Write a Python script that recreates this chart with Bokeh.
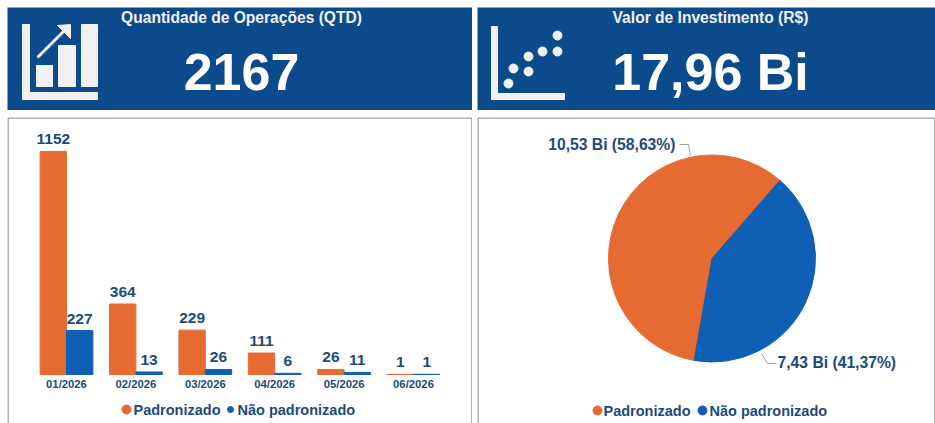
from bokeh.plotting import figure
from bokeh.layouts import column, row
from bokeh.models import ColumnDataSource, FactorRange, Range1d, BoxAnnotation
from bokeh.transform import dodge
from bokeh.core.properties import value
from bokeh.embed import file_html
from bokeh.resources import INLINE
import math

# ---------- data ----------
months = ["01/2026", "02/2026", "03/2026", "04/2026", "05/2026", "06/2026"]
padronizado = [1152, 364, 229, 111, 26, 1]
nao_padronizado = [227, 13, 26, 6, 11, 1]
pie_values = [10.53, 7.43]
pie_labels = ["10,53 Bi (58,63%)", "7,43 Bi (41,37%)"]
series_names = ["Padronizado", "Não padronizado"]
kpi_titles = ["Quantidade de Operações (QTD)", "Valor de Investimento (R$)"]
kpi_values = ["2167", "17,96 Bi"]

# ---------- style ----------
FONT = "Liberation Sans"
NAVY = "#0B4A8B"
ORANGE = "#E66B32"
BLUE = "#0F5FB4"
INK = "#1B4B7C"
ICON = "#F1F1F1"
EDGE = "#9A9A9A"
L_W, R_W, TOP_H, BOT_H = 465, 458, 103, 306
CAT_PAD = 0.35


def base(w, h, x_range, y_range):
    p = figure(width=w, height=h, x_range=x_range, y_range=y_range,
               output_backend="svg", toolbar_location=None, tools="", min_border=0)
    p.grid.visible = False
    p.outline_line_color = None
    return p


def kpi(x0, w, title, val, cx):
    p = base(w, TOP_H, Range1d(x0, x0 + w), Range1d(110, 7))
    p.axis.visible = False
    p.background_fill_color = NAVY
    p.border_fill_color = NAVY
    p.text([cx], [17], text=[title], text_font=value(FONT), text_font_style="bold",
           text_font_size="15.6px", text_color=ICON, text_align="center", text_baseline="middle")
    p.text([cx], [71], text=[val], text_font=value(FONT), text_font_style="bold",
           text_font_size="52px", text_color="#FFFFFF", text_align="center", text_baseline="middle")
    return p


def panel_border(p, w):
    p.add_layout(BoxAnnotation(left=0.5, right=w - 0.5, top=0.5, bottom=BOT_H + 6,
                               left_units="canvas", right_units="canvas",
                               top_units="canvas", bottom_units="canvas",
                               fill_alpha=0, line_color=EDGE, line_alpha=1, line_width=1.5,
                               level="overlay"))


def key(p, xs, y, sizes, **kw):
    """Colour key: dot + label for both series."""
    dot_x, text_x = xs
    for dx, tx, size, color, name in zip(dot_x, text_x, sizes, (ORANGE, BLUE), series_names):
        p.scatter([dx], [y], marker="circle", size=size, color=color, **kw)
        p.text([tx], [y], text=[name], text_font=value(FONT), text_font_style="bold",
               text_font_size="14.5px", text_color=INK, text_align="left",
               text_baseline="middle", **kw)


# ---------- KPI headers ----------
h1 = kpi(7, L_W, kpi_titles[0], kpi_values[0], 241)
h1.quad(left=[22, 22, 36, 58, 81], right=[29, 97, 52, 75, 97],
        top=[24, 92, 65, 45, 24], bottom=[99, 99, 86, 86, 86], color=ICON)
h1.line([37, 66], [57, 28], color=ICON, line_width=3)
h1.patch([70, 57, 70], [24, 25, 38], color=ICON)

h2 = kpi(477, R_W, kpi_titles[1], kpi_values[1], 710)
h2.quad(left=[491, 491], right=[497, 564], top=[26, 93], bottom=[99, 99], color=ICON)
h2.scatter([508, 513, 528, 528, 542, 557, 557], [83, 68, 71, 56, 51, 51, 35],
           marker="circle", size=9, color=ICON)

# ---------- bars ----------
source = ColumnDataSource(dict(month=months, a=padronizado, b=nao_padronizado))
bars = base(L_W, BOT_H,
            FactorRange(factors=months, factor_padding=0, range_padding=CAT_PAD,
                        range_padding_units="absolute"),
            Range1d(-253, 1327))
bars.extra_y_ranges = {"px": Range1d(423, 117)}
bars.vbar(x=dodge("month", -0.19, range=bars.x_range), top="a", width=0.38, source=source, color=ORANGE)
bars.vbar(x=dodge("month", 0.19, range=bars.x_range), top="b", width=0.38, source=source, color=BLUE)
for col, off in (("a", -0.19), ("b", 0.19)):
    bars.text(x=dodge("month", off, range=bars.x_range), y=col, text=col, source=source, y_offset=-12,
              text_font=value(FONT), text_font_style="bold", text_font_size="15.5px",
              text_color=INK, text_align="center", text_baseline="middle")
bars.yaxis.visible = False
ax = bars.xaxis[0]
ax.fixed_location = 0
ax.axis_line_color = None
ax.major_tick_line_color = None
ax.minor_tick_line_color = None
ax.major_tick_out = 0
ax.major_tick_in = 0
ax.major_label_standoff = 3
ax.major_label_text_font = FONT
ax.major_label_text_font_style = "bold"
ax.major_label_text_font_size = "11.3px"
ax.major_label_text_color = INK


def syn(px):
    """Panel pixel to the factor range's own numeric coordinate."""
    return -CAT_PAD + (px - 7) * (len(months) + 2 * CAT_PAD) / L_W


key(bars, ([syn(126), syn(230)], [syn(133), syn(237)]), 409, (9, 6), y_range_name="px")
panel_border(bars, L_W)

# ---------- pie ----------
pie = base(R_W, BOT_H, Range1d(477, 935), Range1d(-423, -117))
pie.axis.visible = False
total = sum(pie_values)
start = math.radians(49)
sweep = [v / total * 2 * math.pi for v in pie_values]
pie.wedge(x=711.5, y=-258, radius=103.5, start_angle=start, end_angle=start + sweep[0], color=ORANGE)
pie.wedge(x=711.5, y=-258, radius=103.5, start_angle=start + sweep[0],
          end_angle=start + sweep[0] + sweep[1], color=BLUE)
pie.line([679, 688, 690], [-144, -144, -155], color="#A0A0A0", line_width=1)
pie.line([761, 767, 776], [-353, -363, -363], color="#A0A0A0", line_width=1)
pie.text([675, 777], [-144, -362], text=pie_labels, text_font=value(FONT), text_font_style="bold",
         text_font_size="15.7px", text_color=INK,
         text_align=["right", "left"], text_baseline="middle")
key(pie, ((597, 702), (603, 709)), -410, (9, 9))
panel_border(pie, R_W)

page = column(row(h1, h2, spacing=5), row(bars, pie, spacing=5), spacing=7,
              margin=(7, 0, 0, 7))
open("out.html", "w").write(file_html(page, INLINE))
